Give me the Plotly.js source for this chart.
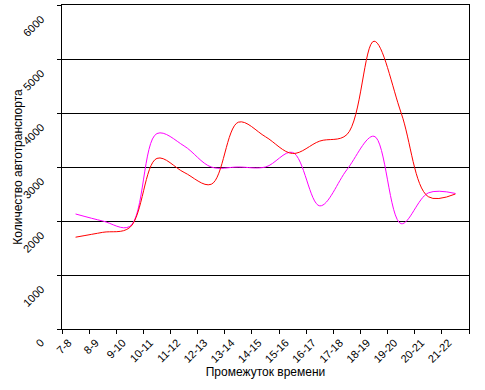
<!DOCTYPE html>
<html>
<head>
<meta charset="utf-8">
<script src="https://cdn.plot.ly/plotly-3.0.1.min.js"></script>
<style>html,body{margin:0;padding:0;background:#fff;}#chart{width:485px;height:390px;}</style>
</head>
<body>
<div id="chart"></div>
<script>
var categories = ["7-8","8-9","9-10","10-11","11-12","12-13","13-14","14-15","15-16","16-17","17-18","18-19","19-20","20-21","21-22"];
var seriesRed = [1700, 1790, 1880, 3160, 2900, 2680, 3830, 3560, 3250, 3480, 3600, 5330, 4000, 2450, 2500];
var seriesMagenta = [2130, 2000, 1900, 3620, 3390, 3000, 3000, 3000, 3270, 2280, 2950, 3570, 1950, 2520, 2510];
var yTicks = [0, 1000, 2000, 3000, 4000, 5000, 6000];
var yTickLabels = ["0", "1000", "2000", "3000", "4000", "5000", "6000"];

var font = "Liberation Sans, Arial, sans-serif";
var traces = [
  {x: categories, y: seriesMagenta, type: "scatter", mode: "lines",
   line: {color: "#FF00FF", width: 1, shape: "spline", smoothing: 1}, hoverinfo: "none"},
  {x: categories, y: seriesRed, type: "scatter", mode: "lines",
   line: {color: "#FF0000", width: 1, shape: "spline", smoothing: 1}, hoverinfo: "none"}
];
var annotations = yTicks.map(function (v, i) {
  return {
    xref: "paper", yref: "y", x: 0, y: v,
    text: yTickLabels[i], showarrow: false, textangle: -45,
    xanchor: "right", yanchor: "top", xshift: -13, yshift: -5,
    font: {family: font, size: 11, color: "#000"}
  };
});
var layout = {
  width: 485, height: 390,
  margin: {l: 62, r: 16, t: 5, b: 61, pad: 0},
  paper_bgcolor: "#fff", plot_bgcolor: "#fff",
  showlegend: false,
  font: {family: font, size: 11, color: "#000"},
  annotations: annotations,
  xaxis: {
    type: "category", range: [-0.5, 14.5],
    tickson: "boundaries", ticks: "outside", ticklen: 4, tickcolor: "#000", tickwidth: 1,
    tickangle: -45, ticklabelshift: -7, ticklabelstandoff: 2,
    showgrid: false, showline: true, linecolor: "#000", linewidth: 1, mirror: true,
    tickfont: {family: font, size: 11, color: "#000"},
    title: {text: "Промежуток времени", font: {family: font, size: 12, color: "#000"}, standoff: 3}
  },
  yaxis: {
    range: [0, 6000], tickvals: yTicks, showticklabels: false,
    ticks: "outside", ticklen: 4, tickcolor: "#000", tickwidth: 1,
    showgrid: true, gridcolor: "#000", gridwidth: 1,
    zeroline: false, showline: true, linecolor: "#000", linewidth: 1, mirror: true,
    title: {text: "Количество автотранспорта", font: {family: font, size: 12, color: "#000"}, standoff: 31}
  }
};
Plotly.newPlot("chart", traces, layout, {staticPlot: true, displayModeBar: false});
</script>
</body>
</html>
